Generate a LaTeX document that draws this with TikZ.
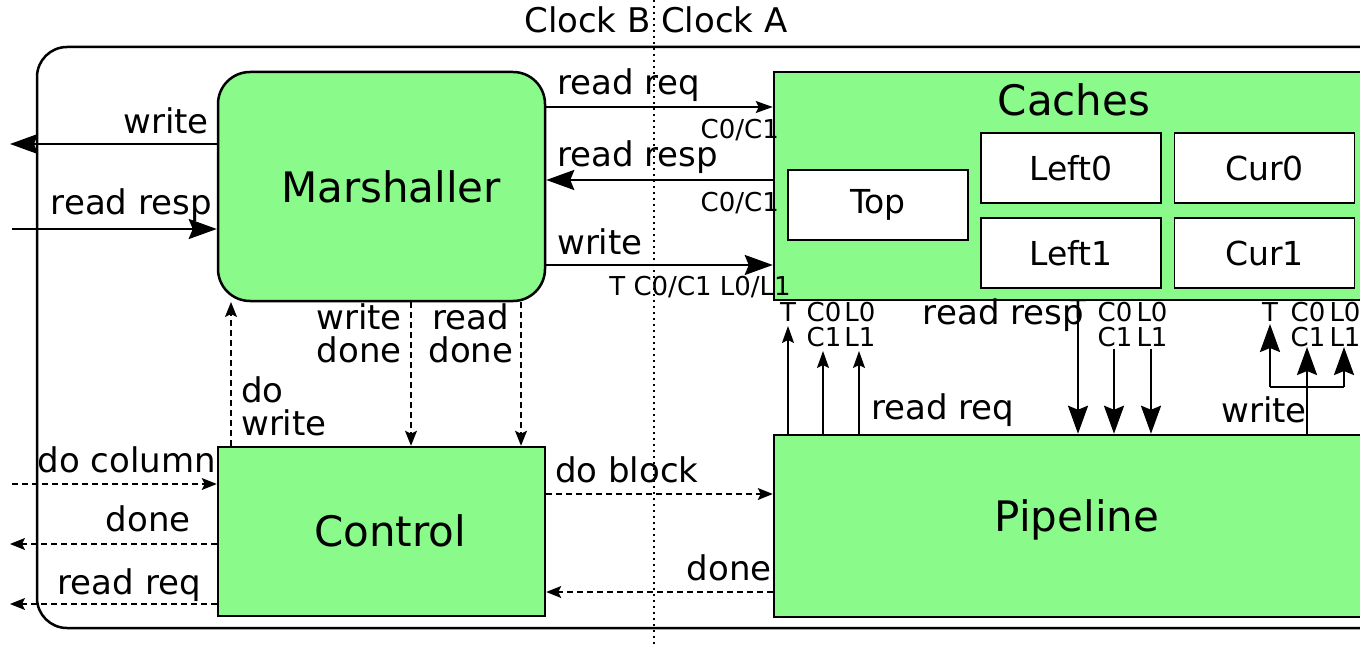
\documentclass[tikz,border=0pt]{standalone}
\usepackage{fontspec}
\setmainfont{DejaVu Sans}
\usetikzlibrary{arrows.meta,positioning}
\definecolor{blockgreen}{RGB}{138,250,138}

\tikzset{
  block/.style={draw,fill=blockgreen,line width=2.5pt,inner sep=0pt},
  subbox/.style={draw,fill=white,line width=1.5pt,minimum width=180pt,minimum height=70pt,
    font=\fontsize{33}{35}\selectfont},
  lbl/.style={font=\fontsize{34}{33}\selectfont,inner sep=1pt},
  sml/.style={font=\fontsize{26}{25}\selectfont,inner sep=0pt},
  bigtxt/.style={font=\fontsize{42}{46}\selectfont},
  fat/.style={line width=2.5pt,-{Stealth[length=28pt,width=20pt,inset=4pt]}},
  slim/.style={line width=1.5pt,-{Stealth[length=17pt,width=12pt,inset=3pt]}},
  sig/.style={line width=1.3pt,dash pattern=on 6pt off 4pt,-{Stealth[length=15pt,width=12pt,inset=3pt]}},
}

\begin{document}
\begin{tikzpicture}[x=1pt,y=-1pt]
  \useasboundingbox (0,0) rectangle (1360,647);
  \clip (0,0) rectangle (1360,647);

  % clock domains
  \draw[line width=2pt,dash pattern=on 2pt off 4pt] (654,0) -- (654,647);
  \node[lbl,anchor=east] (clkb) at (652,20) {Clock B};
  \node[lbl,anchor=west] (clka) at (660,20) {Clock A};
  \draw[line width=2.5pt,rounded corners=30pt] (37,47) rectangle (1390,628);

  % blocks
  \node[block,rounded corners=32pt,minimum width=327pt,minimum height=229pt] (marsh) at (381.5,186.5) {};
  \node[bigtxt] (marshtitle) at (391,187) {Marshaller};
  \node[block,minimum width=620pt,minimum height=228pt] (caches) at (1084,186) {};
  \node[bigtxt] (cachestitle) at (1074,100) {Caches};
  \node[subbox] (top) at (878,205) {Top};
  \node[subbox] (left0) at (1071,168) {Left0};
  \node[subbox] (cur0) at (1264.5,168) {Cur0};
  \node[subbox] (left1) at (1071,253) {Left1};
  \node[subbox] (cur1) at (1264.5,253) {Cur1};
  \node[block,minimum width=327pt,minimum height=169pt] (control) at (381.5,531.5) {};
  \node[bigtxt] (controltitle) at (390,531) {Control};
  \node[block,minimum width=620pt,minimum height=182pt] (pipe) at (1084,526) {};
  \node[bigtxt] (pipetitle) at (1077,520) {Pipeline};

  % outside the picture
  \coordinate (wout) at (10,144);
  \coordinate (rin) at (12,229);
  \coordinate (dcin) at (12,484);
  \coordinate (dnout) at (10,544);
  \coordinate (rqout) at (10,604);
  \draw[fat] (marsh.west |- wout) -- (wout);
  \node[lbl,anchor=east] (lwout) at (210,121) {write};
  \draw[fat] (rin) -- (marsh.west |- rin);
  \node[lbl,anchor=east] (lrin) at (213,205) {read resp};
  \draw[sig] (dcin) -- (control.west |- dcin);
  \node[lbl,anchor=east] (ldcin) at (217,460) {do column};
  \draw[sig] (control.west |- dnout) -- (dnout);
  \node[lbl,anchor=east] (ldnout) at (192,519) {done};
  \draw[sig] (control.west |- rqout) -- (rqout);
  \node[lbl,anchor=east] (lrqout) at (202,585) {read req};

  % marshaller <-> caches
  \draw[slim] (marsh.east |- 0,107) -- (caches.west |- 0,107);
  \node[lbl,anchor=west] (lrreq) at (556,85) {read req};
  \node[sml,anchor=east] (crreq) at (779,130) {C0/C1};
  \draw[fat] (caches.west |- 0,180) -- (marsh.east |- 0,180);
  \node[lbl,anchor=west] (lrresp) at (556,157) {read resp};
  \node[sml,anchor=east] (crresp) at (779,203) {C0/C1};
  \draw[fat] (marsh.east |- 0,265) -- (caches.west |- 0,265);
  \node[lbl,anchor=west] (lwr) at (556,242) {write};
  \node[sml,anchor=east] (cwr) at (791,287) {T C0/C1 L0/L1};

  % marshaller <-> control
  \draw[sig] (control.north -| 231,0) -- (231,302);
  \node[lbl,anchor=west,align=left] (ldow) at (240,406) {do\\write};
  \draw[sig] (marsh.south -| 411,0) -- (control.north -| 411,0);
  \node[lbl,anchor=east,align=right] (lwd) at (403,333) {write\\done};
  \draw[sig] (marsh.south -| 521,0) -- (control.north -| 521,0);
  \node[lbl,align=center] (lrd) at (471,333) {read\\done};

  % control <-> pipeline
  \draw[sig] (control.east |- 0,494) -- (pipe.west |- 0,494);
  \node[lbl,anchor=west] (ldob) at (554,470) {do block};
  \draw[sig] (pipe.west |- 0,592) -- (control.east |- 0,592);
  \node[lbl,anchor=east] (ldone) at (773,568) {done};

  % pipeline -> caches (read req)
  \node[sml] (qt) at (788,312) {T};
  \node[sml,align=center] (qc) at (824,324.5) {C0\\C1};
  \node[sml,align=center] (ql) at (860,324.5) {L0\\L1};
  \draw[slim] (pipe.north -| 788,0) -- (788,326);
  \draw[slim] (pipe.north -| 823,0) -- (823,351);
  \draw[slim] (pipe.north -| 859,0) -- (859,351);
  \node[lbl,anchor=west] (lpq) at (870,410) {read req};

  % caches -> pipeline (read resp)
  \node[lbl,anchor=east] (lpr) at (1085,315) {read resp};
  \node[sml] (rt) at (1078,309) {T};
  \node[sml,align=center] (rc) at (1115,324.5) {C0\\C1};
  \node[sml,align=center] (rl) at (1152,324.5) {L0\\L1};
  \draw[fat] (caches.south -| 1078,0) -- (pipe.north -| 1078,0);
  \draw[fat] (1114,349) -- (pipe.north -| 1114,0);
  \draw[fat] (1151,349) -- (pipe.north -| 1151,0);

  % pipeline -> caches (write)
  \node[sml] (wt) at (1270,312) {T};
  \node[sml,align=center] (wc) at (1308,324.5) {C0\\C1};
  \node[sml,align=center] (wl) at (1345,324.5) {L0\\L1};
  \coordinate (wj) at (1307,387);
  \draw[line width=2.5pt] (pipe.north -| wj) -- (wj);
  \draw[line width=2.5pt] (1270,387) -- (1344,387);
  \draw[fat] (1270,387) -- (1270,324);
  \draw[fat] (wj) -- (1307,347);
  \draw[fat] (1344,387) -- (1344,347);
  \node[lbl,anchor=east] (lpw) at (1308,410) {write};
\end{tikzpicture}
\end{document}
